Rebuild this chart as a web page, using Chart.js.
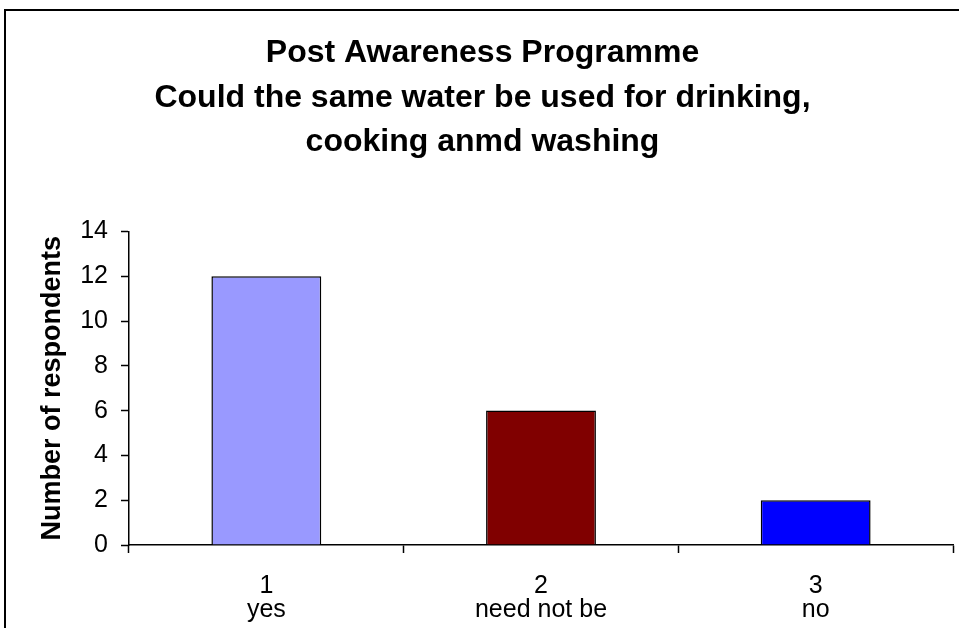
<!DOCTYPE html>
<html>
<head>
<meta charset="utf-8">
<script src="https://cdn.jsdelivr.net/npm/chart.js@4/dist/chart.umd.min.js"></script>
<style>
    html, body { margin: 0; padding: 0; background: #fff; }
    #wrap { width: 959px; height: 628px; }
</style>
</head>
<body>
<div id="wrap"><canvas class="js-chart" width="959" height="628"></canvas></div>
<script>
const ctx = document.querySelector('.js-chart').getContext('2d');

const NUMBERS = ['1', '2', '3'];
const ANSWERS = ['yes', 'need not be', 'no'];
const RESPONDENTS = [12, 6, 2];
const BAR_COLORS = ['#9999FF', '#800000', '#0000FF'];
const Y_TICKS = [0, 2, 4, 6, 8, 10, 12, 14];
const TITLE = [
    'Post Awareness Programme',
    'Could the same water be used for drinking,',
    'cooking anmd washing',
];

const FONT = "'Liberation Sans', Arial, sans-serif";

// outer frame of the chart
const framePlugin = {
    id: 'frame',
    afterDraw(chart) {
        const c = chart.ctx;
        c.save();
        c.strokeStyle = '#000';
        c.lineWidth = 2;
        c.strokeRect(5, 10, 1000, 700);
        c.restore();
    },
};

drawChart();

function drawChart() {
    new Chart(ctx, {
        type: 'bar',
        data: {
            labels: NUMBERS.map((n, i) => [n, ANSWERS[i]]),
            datasets: [
                {
                    data: RESPONDENTS,
                    backgroundColor: BAR_COLORS,
                    borderColor: '#000',
                    borderWidth: 1.5,
                    barPercentage: 0.4,
                    categoryPercentage: 1,
                },
            ],
        },
        options: {
            responsive: false,
            animation: false,
            layout: { padding: { left: 12, right: 6, top: 0, bottom: 5 } },
            plugins: {
                legend: { display: false },
                tooltip: { enabled: false },
                title: {
                    display: true,
                    text: TITLE,
                    color: '#000',
                    font: { family: FONT, size: 32, weight: 'bold', lineHeight: 1.39 },
                    padding: { top: 31, bottom: 67 },
                },
            },
            scales: {
                x: {
                    afterFit(scale) {
                        scale.height = 78;
                    },
                    grid: {
                        offset: true,
                        drawOnChartArea: false,
                        color: '#000',
                        tickLength: 8,
                        tickWidth: 1.5,
                    },
                    border: { color: '#000', width: 1.5 },
                    ticks: {
                        color: '#000',
                        padding: 21,
                        font: { family: FONT, size: 25, lineHeight: 0.96 },
                    },
                },
                y: {
                    min: 0,
                    max: 14,
                    afterBuildTicks(axis) {
                        axis.ticks = Y_TICKS.map(value => ({ value }));
                    },
                    afterFit(scale) {
                        scale.width = 117;
                    },
                    grid: {
                        drawOnChartArea: false,
                        color: '#000',
                        tickLength: 8,
                        tickWidth: 1.5,
                    },
                    border: { color: '#000', width: 1.5 },
                    ticks: {
                        color: '#000',
                        padding: 13,
                        font: { family: FONT, size: 25 },
                    },
                    title: {
                        display: true,
                        text: 'Number of respondents',
                        color: '#000',
                        font: { family: FONT, size: 27, weight: 'bold', lineHeight: 1.2 },
                        padding: { top: 24, bottom: 13 },
                    },
                },
            },
        },
        plugins: [framePlugin],
    });
}
</script>
</body>
</html>
